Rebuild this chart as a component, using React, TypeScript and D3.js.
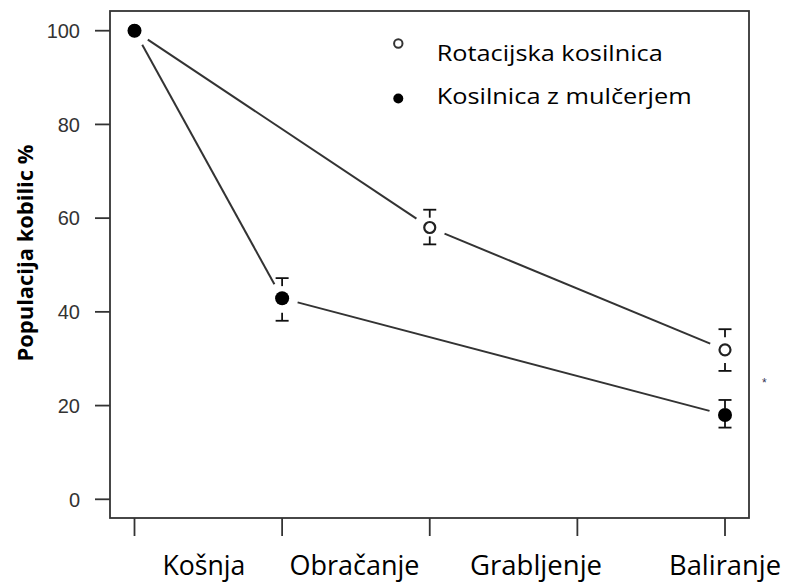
import React from "react";
import * as d3 from "d3";

const stages = ["Košnja", "Obračanje", "Grabljenje", "Baliranje"];
const stageLabelPos = [1.47, 2.49, 3.72, 5.0];
const stageLabelLen = [83, 130, 132, 112];
const xTicks = [1, 2, 3, 4, 5];
const yTicks = [0, 20, 40, 60, 80, 100];

const rotX = [1, 3, 5];
const rotY = [100, 58, 31.9];
const rotLo = [null, 54.4, 27.4];
const rotHi = [null, 61.8, 36.3];

const mulX = [1, 2, 5];
const mulY = [100, 42.9, 18];
const mulLo = [null, 38.1, 15.3];
const mulHi = [null, 47.2, 21.2];

const seriesNames = ["Rotacijska kosilnica", "Kosilnica z mulčerjem"];
const seriesNameLen = [226, 255];

const W = 785;
const H = 582;
const box = { left: 110, right: 749, top: 11, bottom: 518 };

export default function App() {
  const x = d3.scaleLinear().domain([1, 5]).range([134.5, 725]);
  const y = d3.scaleLinear().domain([0, 100]).range([499.3, 30.7]);
  const ink = "#333";
  const gap = 16;

  const segs = (xs: number[], ys: number[]) => {
    const out: { x1: number; y1: number; x2: number; y2: number }[] = [];
    for (let i = 0; i < xs.length - 1; i++) {
      const ax = x(xs[i]), ay = y(ys[i]), bx = x(xs[i + 1]), by = y(ys[i + 1]);
      const len = Math.hypot(bx - ax, by - ay);
      const ux = (bx - ax) / len, uy = (by - ay) / len;
      out.push({ x1: ax + ux * gap, y1: ay + uy * gap, x2: bx - ux * gap, y2: by - uy * gap });
    }
    return out;
  };

  const errBars = (xs: number[], lo: (number | null)[], hi: (number | null)[], key: string) =>
    xs.map((v, i) => {
      if (lo[i] == null || hi[i] == null) return null;
      const cx = x(v);
      const yl = y(lo[i] as number), yh = y(hi[i] as number);
      return (
        <g key={key + i} stroke="#111" strokeWidth={1.8}>
          <line x1={cx} x2={cx} y1={yh} y2={yh + 8} />
          <line x1={cx - 6.5} x2={cx + 6.5} y1={yh} y2={yh} />
          <line x1={cx} x2={cx} y1={yl} y2={yl - 8} />
          <line x1={cx - 6.5} x2={cx + 6.5} y1={yl} y2={yl} />
        </g>
      );
    });

  const calibri = "'Open Sans', 'Noto Sans', sans-serif";

  return (
    <div style={{ position: "absolute", left: 0, top: 0 }}>
      <svg width={W} height={H} style={{ display: "block", background: "#fff" }}>
        <rect x={box.left} y={box.top} width={box.right - box.left} height={box.bottom - box.top} fill="none" stroke={ink} strokeWidth={1.8} />
        {yTicks.map((t) => (
          <g key={"y" + t}>
            <line x1={95} x2={box.left} y1={y(t)} y2={y(t)} stroke={ink} strokeWidth={1.8} />
            <text x={80} y={y(t)} dy="0.36em" textAnchor="end" fontFamily="'Liberation Sans', Arial, sans-serif" fontSize={20} fill="#333">
              {t}
            </text>
          </g>
        ))}
        {xTicks.map((t) => (
          <line key={"x" + t} x1={x(t)} x2={x(t)} y1={box.bottom} y2={box.bottom + 18} stroke={ink} strokeWidth={1.8} />
        ))}
        {stages.map((s, i) => (
          <text key={s} x={x(stageLabelPos[i])} y={575} textAnchor="middle" fontFamily={calibri} fontSize={27} fill="#000"
            textLength={stageLabelLen[i]} lengthAdjust="spacingAndGlyphs">
            {s}
          </text>
        ))}
        <text transform={`translate(33,${253}) rotate(-90)`} textAnchor="middle" fontFamily={calibri} fontWeight="bold" fontSize={21} fill="#000"
          textLength={217} lengthAdjust="spacingAndGlyphs">
          Populacija kobilic %
        </text>

        {segs(rotX, rotY).map((s, i) => (
          <line key={"rs" + i} {...s} stroke={ink} strokeWidth={2} />
        ))}
        {segs(mulX, mulY).map((s, i) => (
          <line key={"ms" + i} {...s} stroke={ink} strokeWidth={2} />
        ))}
        {errBars(rotX, rotLo, rotHi, "re")}
        {errBars(mulX, mulLo, mulHi, "me")}
        {rotX.map((v, i) => (
          <circle key={"rc" + i} cx={x(v)} cy={y(rotY[i])} r={5.5} fill="#fff" stroke="#222" strokeWidth={2.2} />
        ))}
        {mulX.map((v, i) => (
          <circle key={"mc" + i} cx={x(v)} cy={y(mulY[i])} r={7} fill="#000" />
        ))}

        <circle cx={398.3} cy={43.5} r={4.2} fill="#fff" stroke="#333" strokeWidth={2} />
        <text x={436.7} y={61} fontFamily={calibri} fontSize={22} fill="#000" textLength={seriesNameLen[0]} lengthAdjust="spacingAndGlyphs">{seriesNames[0]}</text>
        <circle cx={398.3} cy={98.5} r={5} fill="#000" />
        <text x={436.7} y={104} fontFamily={calibri} fontSize={22} fill="#000" textLength={seriesNameLen[1]} lengthAdjust="spacingAndGlyphs">{seriesNames[1]}</text>

        <text x={764.3} y={387} textAnchor="middle" fontFamily="'Liberation Sans', Arial, sans-serif" fontSize={12} fill="#335">*</text>
      </svg>
    </div>
  );
}
